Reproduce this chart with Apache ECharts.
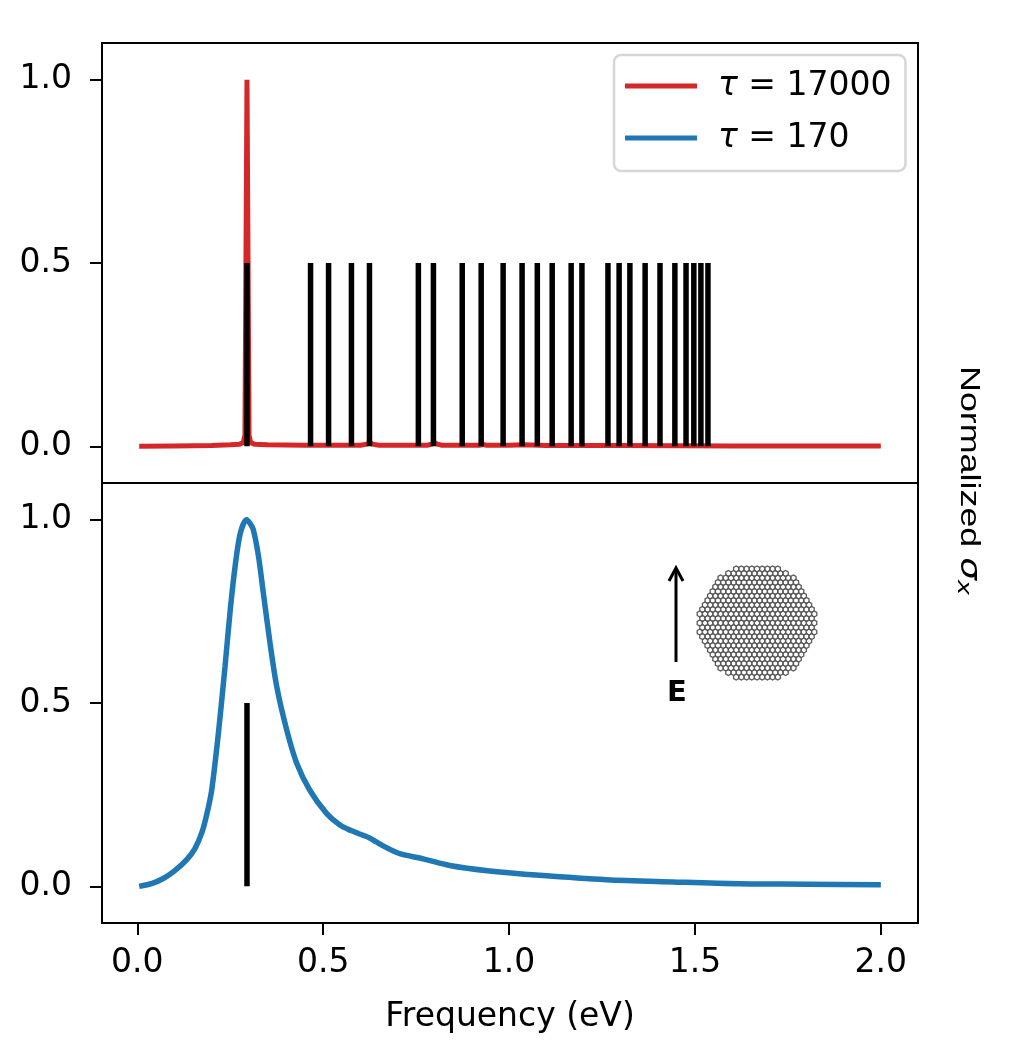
<!DOCTYPE html>
<html>
<head>
<meta charset="utf-8">
<script src="https://cdn.jsdelivr.net/npm/echarts@6/dist/echarts.min.js"></script>
<style>
  html, body { margin: 0; padding: 0; background: #fff; }
  #main { width: 1020px; height: 1050px; }
</style>
</head>
<body>
<div id="main"></div>
<script>
// frequency (eV) / normalized cross section
var redX = [0.005, 0.1, 0.2, 0.25, 0.275, 0.285, 0.2895, 0.295, 0.3005, 0.305, 0.315, 0.35, 0.45, 0.6, 0.618, 0.625, 0.632, 0.65, 0.78, 0.792, 0.799, 0.806, 0.82, 0.92, 0.93, 0.94, 1.0, 1.04, 1.1, 1.3, 1.6, 2.0];
var redY = [0.0, 0.001, 0.002, 0.004, 0.006, 0.01, 0.03, 1.0, 0.03, 0.01, 0.006, 0.004, 0.003, 0.003, 0.006, 0.012, 0.006, 0.003, 0.003, 0.006, 0.011, 0.006, 0.003, 0.003, 0.005, 0.003, 0.003, 0.004, 0.002, 0.002, 0.001, 0.001];

var blueX = [0.005, 0.04, 0.071, 0.1, 0.133, 0.155, 0.174, 0.187, 0.2, 0.218, 0.236, 0.25, 0.263, 0.277, 0.294, 0.303, 0.312, 0.326, 0.339, 0.357, 0.375, 0.402, 0.429, 0.464, 0.509, 0.545, 0.575, 0.608, 0.625, 0.643, 0.675, 0.706, 0.769, 0.84, 0.948, 1.082, 1.261, 1.44, 1.619, 1.8, 2.0];
var blueY = [0.0, 0.008, 0.022, 0.042, 0.073, 0.103, 0.148, 0.197, 0.262, 0.417, 0.6, 0.754, 0.872, 0.963, 1.0, 0.99, 0.973, 0.9, 0.8, 0.663, 0.545, 0.426, 0.335, 0.262, 0.199, 0.167, 0.152, 0.139, 0.132, 0.121, 0.103, 0.089, 0.075, 0.057, 0.042, 0.030, 0.018, 0.012, 0.007, 0.006, 0.004];

// mode positions (black sticks), height 0.5
var modesTop = [0.295, 0.466, 0.5145, 0.576, 0.6245, 0.756, 0.7965, 0.874, 0.925, 0.984, 1.035, 1.076, 1.116, 1.167, 1.196, 1.266, 1.296, 1.325, 1.366, 1.406, 1.446, 1.476, 1.497, 1.516, 1.535];
var modesBottom = [0.295];
var stickHeight = 0.5;

var yTicks = [0, 0.5, 1.0];
var xTicks = [0, 0.5, 1.0, 1.5, 2.0];

function pairs(xs, ys) {
  return xs.map(function (x, i) { return [x, ys[i]]; });
}

var myChart = echarts.init(document.getElementById('main'));

var FONT = 'DejaVu Sans';
var fs = 33;

function stickRender(params, api) {
  var p0 = api.coord([api.value(0), 0]);
  var p1 = api.coord([api.value(0), api.value(1)]);
  return {
    type: 'line',
    shape: { x1: p0[0], y1: p0[1], x2: p1[0], y2: p1[1] },
    style: { stroke: '#000', lineWidth: 5.5, lineCap: 'butt' }
  };
}

function yAxisOpt(idx) {
  return {
    type: 'value', gridIndex: idx, min: -0.1, max: 1.1,
    splitLine: { show: false },
    axisLine: { show: true, onZero: false, lineStyle: { color: '#000', width: 2 } },
    axisTick: { show: true, customValues: yTicks, length: 12, lineStyle: { color: '#000', width: 2 } },
    axisLabel: {
      customValues: yTicks, margin: 30, color: '#000', fontFamily: FONT, fontSize: fs,
      formatter: function (v) { return v.toFixed(1); }
    }
  };
}

// honeycomb flake for the inset (decoration, not data)
function honeycomb(cx, cy, R, w) {
  var a = w / Math.sqrt(3);
  var dy = 1.5 * a;
  var rows = Math.ceil(R / dy) + 1;
  var hexes = [];
  for (var r = -rows; r <= rows; r++) {
    var off = (r % 2 !== 0) ? w / 2 : 0;
    for (var c = -rows * 2; c <= rows * 2; c++) {
      var hx = cx + c * w + off, hy = cy + r * dy;
      if (Math.hypot(hx - cx, hy - cy) > R - a) continue;
      var pts = [];
      for (var k = 0; k < 6; k++) {
        var ang = Math.PI / 6 + k * Math.PI / 3;
        pts.push([hx + a * Math.cos(ang), hy + a * Math.sin(ang)]);
      }
      hexes.push({
        type: 'polygon', shape: { points: pts }, silent: true,
        style: { fill: 'none', stroke: '#5a5a5a', lineWidth: 1.3 }
      });
    }
  }
  return { type: 'group', silent: true, children: hexes };
}

var option = {
  animation: false,
  backgroundColor: '#fff',
  grid: [
    { left: 102, top: 43, width: 816, height: 440, show: true, borderColor: '#000', borderWidth: 2, backgroundColor: 'transparent' },
    { left: 102, top: 483, width: 816, height: 440, show: true, borderColor: '#000', borderWidth: 2, backgroundColor: 'transparent' }
  ],
  xAxis: [
    {
      type: 'value', gridIndex: 0, min: -0.095, max: 2.1,
      splitLine: { show: false }, axisLine: { show: false, onZero: false },
      axisTick: { show: false }, axisLabel: { show: false }
    },
    {
      type: 'value', gridIndex: 1, min: -0.095, max: 2.1,
      splitLine: { show: false },
      axisLine: { show: true, onZero: false, lineStyle: { color: '#000', width: 2 } },
      axisTick: { show: true, customValues: xTicks, length: 12, lineStyle: { color: '#000', width: 2 } },
      axisLabel: {
        customValues: xTicks, margin: 24, color: '#000', fontFamily: FONT, fontSize: fs,
        formatter: function (v) { return v.toFixed(1); }
      },
      name: 'Frequency (eV)', nameLocation: 'middle', nameGap: 78,
      nameTextStyle: { color: '#000', fontFamily: FONT, fontSize: fs }
    }
  ],
  yAxis: [yAxisOpt(0), yAxisOpt(1)],
  legend: {
    data: ['red', 'blue'],
    orient: 'vertical',
    left: 614, top: 55,
    icon: 'rect', itemWidth: 72, itemHeight: 5, itemGap: 16,
    padding: [13, 14, 15, 11],
    backgroundColor: '#fff',
    borderColor: '#d6d6d6', borderWidth: 2.5, borderRadius: 7,
    formatter: function (name) {
      return name === 'red' ? '{t|τ} = 17000' : '{t|τ} = 170';
    },
    textStyle: {
      color: '#000', fontFamily: FONT, fontSize: fs, lineHeight: 36, padding: [0, 0, 0, 16],
      rich: { t: { fontStyle: 'italic', fontFamily: FONT, fontSize: fs, color: '#000' } }
    }
  },
  series: [
    {
      name: 'red', type: 'line', xAxisIndex: 0, yAxisIndex: 0,
      data: pairs(redX, redY), showSymbol: false, symbol: 'none',
      lineStyle: { color: '#d62728', width: 5 }, itemStyle: { color: '#d62728' }, z: 2
    },
    {
      name: 'sticksTop', type: 'custom', xAxisIndex: 0, yAxisIndex: 0,
      data: modesTop.map(function (x) { return [x, stickHeight]; }),
      renderItem: stickRender, z: 3
    },
    {
      name: 'blue', type: 'line', xAxisIndex: 1, yAxisIndex: 1,
      data: pairs(blueX, blueY), showSymbol: false, symbol: 'none', smooth: 0.3,
      lineStyle: { color: '#1f77b4', width: 5.5 }, itemStyle: { color: '#1f77b4' }, z: 2
    },
    {
      name: 'sticksBottom', type: 'custom', xAxisIndex: 1, yAxisIndex: 1,
      data: modesBottom.map(function (x) { return [x, stickHeight]; }),
      renderItem: stickRender, z: 3
    }
  ],
  graphic: [
    {
      type: 'text', x: 984, y: 366, rotation: -Math.PI / 2, scaleX: 1.28,
      style: {
        text: 'Normalized {s|σ}{x|x}',
        fill: '#000', font: '28px "Liberation Sans"',
        rich: {
          s: { fontStyle: 'italic', fontSize: 28, fontFamily: 'DejaVu Sans' },
          x: { fontStyle: 'italic', fontSize: 20, fontFamily: 'DejaVu Sans', padding: [11, 0, 0, 0] }
        }
      }
    },
    honeycomb(757, 623, 61, 5.2),
    {
      type: 'line', shape: { x1: 676, y1: 662, x2: 676, y2: 569 },
      style: { stroke: '#000', lineWidth: 3 }
    },
    {
      type: 'polyline', shape: { points: [[669, 581], [676, 568], [683, 581]] },
      style: { stroke: '#000', lineWidth: 3, fill: 'none' }
    },
    {
      type: 'text', x: 677, y: 693,
      style: { text: 'E', fill: '#000', font: 'bold 29px "DejaVu Sans"', align: 'center', verticalAlign: 'middle' }
    }
  ]
};

myChart.setOption(option);
</script>
</body>
</html>
